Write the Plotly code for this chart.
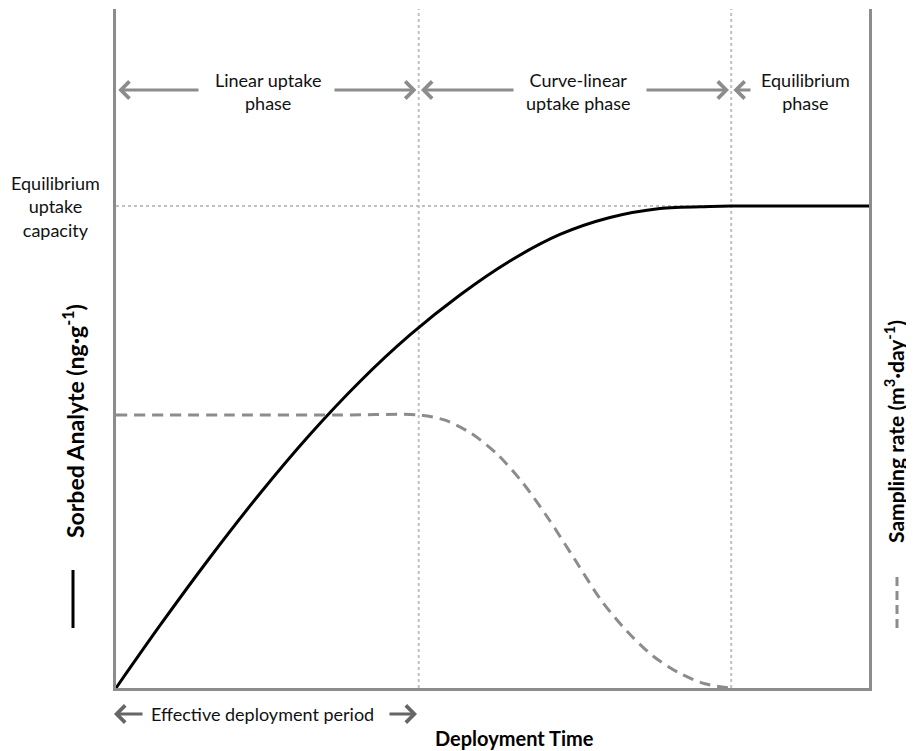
import plotly.graph_objects as go

# ---- data ----
phase_bounds = [0, 40.2, 81.7, 100]
phase_labels = ["Linear uptake<br>phase", "Curve-linear<br>uptake phase", "Equilibrium<br>phase"]
equilibrium_level = 1.0

sorbed_x = [0, 5.84, 12.48, 19.12, 25.76, 32.40, 39.04, 45.68, 52.32, 58.96, 65.60, 72.24, 78.88, 81.7, 100]
sorbed_y = [0, 0.1297, 0.2707, 0.4035, 0.5259, 0.6359, 0.7324, 0.8154, 0.8859, 0.9409,
            0.9761, 0.9948, 0.999, 1.0, 1.0]

rate_x = [0, 15, 30, 40.24, 43.69, 47.14, 50.60, 54.05, 57.50, 60.96, 64.41, 67.86,
          71.31, 74.77, 78.22, 81.67]
rate_y = [0.5664, 0.5664, 0.5664, 0.5664, 0.5556, 0.5286, 0.4855, 0.4251, 0.3496, 0.2660,
          0.1824, 0.1176, 0.0664, 0.0313, 0.0087, 0.0]

# ---- layout geometry (screen pixels; page body has an 8px margin) ----
OFF = 8
PL, PR, PT, PB = 116, 869, 9, 688          # plot area on screen
W, H = 906, 743
margin = dict(l=PL - OFF, r=OFF + W - PR, t=PT - OFF, b=OFF + H - PB)
plot_w = PR - PL
plot_h = PB - PT
x_range = [0, 100]
px_per_x = plot_w / (x_range[1] - x_range[0])
px_per_y = 482.0
y_range = [0, plot_h / px_per_y]

FONT = "Lato, 'Open Sans', sans-serif"
GRAY = "#8c8c8c"
DOT = "#c0c0c0"


def px_to_x(px):
    return (px - PL) / px_per_x


def px_to_y(py):
    return (PB - py) / px_per_y


def px_to_paper_y(py):
    return (PB - py) / plot_h


def px_to_paper_x(px):
    return (px - PL) / plot_w


fig = go.Figure()

fig.add_trace(go.Scatter(x=sorbed_x, y=sorbed_y, mode="lines",
                         line=dict(color="black", width=3, shape="spline", smoothing=0.8),
                         hoverinfo="skip", showlegend=False))
fig.add_trace(go.Scatter(x=rate_x, y=rate_y, mode="lines",
                         line=dict(color=GRAY, width=3, dash="11px,7px", shape="spline", smoothing=0.8),
                         hoverinfo="skip", showlegend=False))

shapes = []
for xb in phase_bounds[1:3]:
    shapes.append(dict(type="line", xref="x", yref="paper", x0=xb, x1=xb, y0=0, y1=1,
                       line=dict(color=DOT, width=2, dash="dot"), layer="below"))
shapes.append(dict(type="line", xref="x", yref="y", x0=phase_bounds[0], x1=phase_bounds[2],
                   y0=equilibrium_level, y1=equilibrium_level,
                   line=dict(color=DOT, width=2, dash="dot"), layer="below"))
# legend line samples next to the axis titles
shapes.append(dict(type="line", xref="paper", yref="paper",
                   x0=px_to_paper_x(73), x1=px_to_paper_x(73),
                   y0=px_to_paper_y(628), y1=px_to_paper_y(570),
                   line=dict(color="black", width=3)))
shapes.append(dict(type="line", xref="paper", yref="paper",
                   x0=px_to_paper_x(897), x1=px_to_paper_x(897),
                   y0=px_to_paper_y(628), y1=px_to_paper_y(575),
                   line=dict(color=GRAY, width=3, dash="9px,5px")))

annotations = []
arrow_y = px_to_y(90)
label_y = px_to_y(91)
arrow_tails = [(200, 333), (515, 645), (752, 860)]
label_cx = [268, 578, 805]
for i, lab in enumerate(phase_labels):
    x0, x1 = phase_bounds[i], phase_bounds[i + 1]
    annotations.append(dict(x=px_to_x(label_cx[i]), y=label_y, xref="x", yref="y", text=lab,
                            xanchor="center", yanchor="middle",
                            showarrow=False, font=dict(family=FONT, size=18, color="#111")))
    tl, tr = arrow_tails[i]
    for head, tail in [(x0 + 0.3, px_to_x(tl)), (x1 - 0.3, px_to_x(tr))]:
        annotations.append(dict(x=head, y=arrow_y, ax=tail, ay=arrow_y, xref="x", yref="y",
                                axref="x", ayref="y", text="", showarrow=True,
                                arrowhead=4, arrowsize=1.1, arrowwidth=3, arrowcolor=GRAY,
                                standoff=0, startstandoff=0))

# Effective deployment period (below the axis)
eff_y = px_to_paper_y(714)
annotations.append(dict(x=px_to_x(262), y=eff_y, xref="x", yref="paper",
                        xanchor="center", yanchor="middle",
                        text="Effective deployment period", showarrow=False,
                        font=dict(family=FONT, size=18, color="#111")))
for head, tail in [(px_to_x(114), px_to_x(144)), (px_to_x(417), px_to_x(388))]:
    annotations.append(dict(x=head, y=eff_y, ax=tail, ay=0, xref="x", yref="paper",
                            axref="x", ayref="pixel", text="", showarrow=True,
                            arrowhead=4, arrowsize=1.1, arrowwidth=3, arrowcolor="#666",
                            standoff=0, startstandoff=0))

# x-axis title
annotations.append(dict(x=px_to_paper_x(514), y=px_to_paper_y(738), xref="paper", yref="paper",
                        xanchor="center", yanchor="middle",
                        text="<b>Deployment Time</b>", showarrow=False,
                        font=dict(family=FONT, size=20, color="black")))
# equilibrium capacity label
annotations.append(dict(x=px_to_paper_x(55), y=equilibrium_level, xref="paper", yref="y",
                        xanchor="center", yanchor="middle",
                        text="Equilibrium<br>uptake<br>capacity", showarrow=False,
                        font=dict(family=FONT, size=18, color="#111")))
# left & right axis titles
annotations.append(dict(x=px_to_paper_x(73), y=px_to_paper_y(421), xref="paper", yref="paper",
                        xanchor="center", yanchor="middle",
                        text="<b>Sorbed Analyte (ng·g<sup>-1</sup>)</b>", textangle=-90,
                        showarrow=False, font=dict(family=FONT, size=23, color="black")))
annotations.append(dict(x=px_to_paper_x(894), y=px_to_paper_y(432), xref="paper", yref="paper",
                        xanchor="center", yanchor="middle",
                        text="<b>Sampling rate (m<sup>3</sup>·day<sup>-1</sup>)</b>", textangle=-90,
                        showarrow=False, font=dict(family=FONT, size=21, color="black")))

fig.update_layout(
    width=W, height=H,
    margin=margin,
    paper_bgcolor="white", plot_bgcolor="white",
    xaxis=dict(range=x_range, showgrid=False, zeroline=False, showticklabels=False,
               ticks="", showline=True, linecolor=GRAY, linewidth=3, fixedrange=True),
    yaxis=dict(range=y_range, showgrid=False, zeroline=False, showticklabels=False,
               ticks="", showline=True, mirror=True, linecolor=GRAY, linewidth=3, fixedrange=True),
    shapes=shapes, annotations=annotations, showlegend=False,
    font=dict(family=FONT),
)

fig.write_html("out.html")
